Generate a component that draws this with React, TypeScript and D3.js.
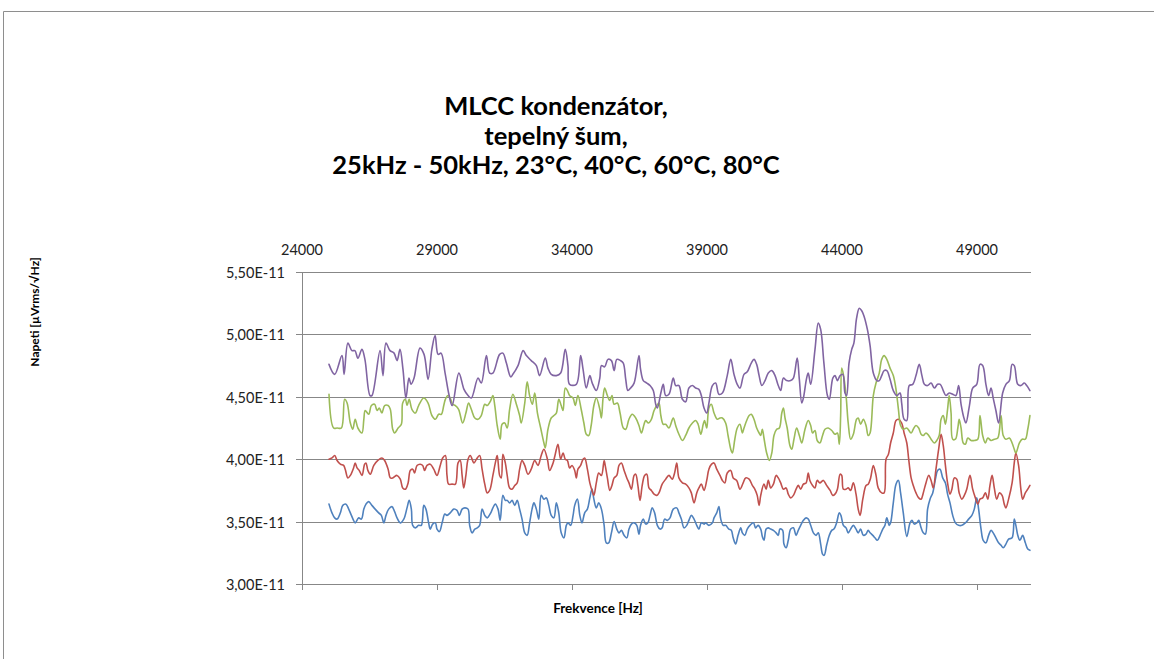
import React from "react";
import * as d3 from "d3";

// Noise voltage density of an MLCC capacitor, 25–51 kHz, at four temperatures.
// Each series: [frequency in Hz, value in units of 1E-11].

const FREQ_TICKS = [24000, 29000, 34000, 39000, 44000, 49000];
const VOLT_TICKS = [3.0, 3.5, 4.0, 4.5, 5.0, 5.5];
const TITLE_LINES = ["MLCC kondenzátor,", "tepelný šum,", "25kHz - 50kHz, 23°C, 40°C, 60°C, 80°C"];
const SERIES_NAMES = ["23°C", "40°C", "60°C", "80°C"];
const SERIES_COLORS = ["#4F81BD", "#C0504D", "#9BBB59", "#8064A2"];

const noise23C: [number, number][] = [
  [25000,3.64],[25110,3.57],[25210,3.53],[25300,3.52],[25420,3.57],[25510,3.63],[25630,3.64],[25730,3.60],[25830,3.55],[25910,3.51],
  [25970,3.49],[26100,3.53],[26200,3.52],[26290,3.60],[26370,3.64],[26470,3.66],[26590,3.63],[26710,3.60],[26840,3.57],[26940,3.55],
  [27030,3.49],[27110,3.55],[27210,3.60],[27330,3.62],[27430,3.58],[27520,3.53],[27640,3.49],[27770,3.52],[27890,3.61],[27970,3.67],
  [28050,3.60],[28100,3.47],[28200,3.45],[28320,3.47],[28420,3.47],[28510,3.63],[28590,3.60],[28690,3.49],[28750,3.44],[28840,3.48],
  [28940,3.49],[29000,3.44],[29090,3.42],[29190,3.49],[29290,3.56],[29370,3.55],[29490,3.57],[29620,3.60],[29740,3.59],[29830,3.55],
  [29930,3.60],[30030,3.61],[30150,3.60],[30210,3.47],[30300,3.41],[30400,3.44],[30490,3.45],[30580,3.47],[30670,3.60],[30770,3.55],
  [30860,3.53],[30990,3.57],[31070,3.61],[31160,3.64],[31260,3.60],[31340,3.51],[31440,3.71],[31530,3.67],[31600,3.67],[31690,3.65],
  [31780,3.67],[31880,3.63],[31970,3.67],[32060,3.60],[32150,3.52],[32250,3.41],[32340,3.39],[32430,3.49],[32520,3.60],[32590,3.65],
  [32680,3.60],[32770,3.52],[32860,3.71],[32960,3.68],[33050,3.69],[33140,3.63],[33230,3.55],[33330,3.53],[33420,3.65],[33510,3.57],
  [33600,3.41],[33700,3.37],[33790,3.47],[33850,3.49],[33950,3.47],[34040,3.55],[34100,3.63],[34200,3.68],[34290,3.55],[34370,3.49],
  [34470,3.57],[34570,3.60],[34660,3.69],[34740,3.76],[34810,3.68],[34900,3.61],[34990,3.65],[35090,3.60],[35190,3.47],[35270,3.33],
  [35360,3.33],[35460,3.41],[35560,3.50],[35660,3.44],[35740,3.41],[35830,3.43],[35930,3.39],[36030,3.37],[36110,3.44],[36200,3.48],
  [36300,3.49],[36400,3.47],[36480,3.40],[36540,3.47],[36640,3.52],[36730,3.48],[36810,3.49],[36890,3.55],[36970,3.61],[37060,3.57],
  [37160,3.47],[37260,3.44],[37340,3.45],[37430,3.52],[37530,3.51],[37630,3.53],[37750,3.60],[37880,3.61],[37960,3.57],[38050,3.52],
  [38150,3.45],[38250,3.47],[38330,3.51],[38420,3.55],[38520,3.52],[38620,3.47],[38700,3.44],[38790,3.49],[38890,3.48],[38950,3.49],
  [39070,3.47],[39200,3.49],[39260,3.53],[39360,3.57],[39440,3.62],[39510,3.52],[39600,3.47],[39690,3.47],[39810,3.44],[39900,3.43],
  [39970,3.37],[40060,3.32],[40150,3.39],[40250,3.45],[40310,3.41],[40400,3.39],[40490,3.44],[40590,3.47],[40720,3.49],[40800,3.45],
  [40890,3.47],[40990,3.44],[41050,3.38],[41110,3.35],[41190,3.44],[41270,3.45],[41360,3.44],[41460,3.43],[41560,3.41],[41640,3.39],
  [41700,3.44],[41800,3.43],[41850,3.32],[41930,3.29],[42010,3.35],[42100,3.44],[42200,3.45],[42300,3.39],[42380,3.43],[42470,3.47],
  [42570,3.51],[42670,3.53],[42750,3.52],[42840,3.47],[42940,3.41],[43040,3.39],[43120,3.41],[43210,3.32],[43280,3.24],[43340,3.23],
  [43430,3.31],[43530,3.39],[43620,3.43],[43700,3.44],[43800,3.49],[43900,3.57],[43960,3.55],[44050,3.47],[44150,3.45],[44230,3.41],
  [44320,3.44],[44420,3.47],[44520,3.44],[44600,3.41],[44690,3.44],[44790,3.39],[44890,3.40],[44970,3.43],[45040,3.41],[45140,3.39],
  [45220,3.37],[45310,3.35],[45410,3.39],[45510,3.44],[45590,3.47],[45660,3.53],[45750,3.47],[45800,3.49],[45900,3.65],[46000,3.80],
  [46090,3.83],[46170,3.73],[46270,3.57],[46400,3.38],[46520,3.49],[46590,3.51],[46680,3.48],[46770,3.49],[46840,3.51],[46930,3.45],
  [47010,3.41],[47090,3.40],[47170,3.60],[47260,3.68],[47360,3.73],[47460,3.84],[47540,3.91],[47630,3.92],[47730,3.85],[47830,3.81],
  [47910,3.72],[48000,3.65],[48100,3.55],[48200,3.49],[48320,3.47],[48440,3.47],[48570,3.49],[48690,3.52],[48810,3.55],[48900,3.60],
  [48990,3.69],[49060,3.60],[49150,3.44],[49230,3.35],[49330,3.33],[49430,3.39],[49520,3.43],[49600,3.41],[49700,3.37],[49800,3.33],
  [49890,3.31],[49970,3.29],[50070,3.32],[50170,3.36],[50300,3.37],[50380,3.52],[50440,3.47],[50510,3.39],[50590,3.35],[50690,3.39],
  [50790,3.33],[50880,3.28],[50960,3.27],
];

const noise40C: [number, number][] = [
  [25000,4.00],[25110,4.01],[25210,4.03],[25300,3.99],[25420,3.96],[25540,3.95],[25600,3.92],[25700,3.85],[25790,3.87],[25910,3.93],
  [25970,3.97],[26040,3.93],[26120,3.91],[26220,3.87],[26320,3.96],[26370,3.97],[26440,3.91],[26530,3.88],[26660,3.95],[26810,3.99],
  [26960,4.01],[27060,3.99],[27190,3.92],[27270,3.85],[27360,3.85],[27520,3.87],[27640,3.84],[27730,3.77],[27830,3.76],[27930,3.81],
  [28010,3.91],[28100,3.92],[28170,3.89],[28260,3.95],[28380,3.96],[28470,3.95],[28540,3.91],[28630,3.95],[28750,3.96],[28880,3.92],
  [29000,3.87],[29120,3.95],[29210,4.01],[29310,4.03],[29370,3.87],[29430,3.80],[29560,3.80],[29680,3.80],[29780,3.97],[29860,3.99],
  [29930,3.87],[29990,3.77],[30070,3.87],[30150,4.00],[30230,4.03],[30370,3.97],[30460,4.00],[30580,4.03],[30670,3.92],[30770,3.80],
  [30860,3.73],[30950,3.75],[31070,3.87],[31160,3.97],[31230,4.03],[31320,3.87],[31380,3.85],[31440,4.04],[31530,3.97],[31600,3.87],
  [31690,3.77],[31780,3.76],[31880,3.79],[31970,3.81],[32060,3.92],[32150,3.99],[32250,3.95],[32370,3.88],[32490,3.92],[32620,3.99],
  [32740,3.95],[32860,4.03],[32960,4.08],[33090,4.00],[33170,3.91],[33300,3.97],[33380,4.04],[33480,4.12],[33580,4.00],[33670,4.05],
  [33750,4.00],[33830,3.99],[33910,3.93],[34000,3.95],[34100,3.91],[34160,3.85],[34220,3.92],[34320,3.95],[34410,4.00],[34470,4.01],
  [34570,3.92],[34660,3.81],[34740,3.75],[34810,3.71],[34900,3.81],[34990,3.89],[35090,3.87],[35190,3.99],[35230,3.95],[35310,3.85],
  [35400,3.75],[35480,3.79],[35560,3.85],[35660,3.87],[35740,3.95],[35830,3.97],[35930,3.91],[36030,3.85],[36110,3.81],[36200,3.76],
  [36300,3.87],[36360,3.88],[36440,3.79],[36520,3.67],[36600,3.79],[36690,3.87],[36770,3.88],[36850,3.77],[36940,3.75],[37040,3.72],
  [37140,3.71],[37220,3.73],[37340,3.80],[37470,3.84],[37590,3.87],[37710,3.84],[37800,3.89],[37880,3.97],[37960,3.85],[38090,3.81],
  [38210,3.80],[38330,3.77],[38420,3.73],[38520,3.65],[38620,3.73],[38700,3.77],[38790,3.80],[38890,3.75],[38990,3.83],[39070,3.92],
  [39170,3.96],[39260,3.97],[39360,3.92],[39480,3.87],[39570,3.83],[39660,3.81],[39750,3.89],[39880,3.91],[39970,3.85],[40100,3.83],
  [40220,3.76],[40340,3.81],[40430,3.85],[40560,3.84],[40680,3.79],[40770,3.76],[40860,3.71],[40930,3.63],[40990,3.71],[41110,3.80],
  [41190,3.76],[41270,3.83],[41360,3.77],[41460,3.80],[41560,3.87],[41640,3.85],[41730,3.81],[41830,3.76],[41930,3.77],[42010,3.72],
  [42100,3.69],[42200,3.71],[42300,3.76],[42380,3.79],[42470,3.76],[42570,3.80],[42670,3.81],[42750,3.89],[42810,3.83],[42910,3.79],
  [43000,3.77],[43080,3.83],[43180,3.81],[43310,3.83],[43430,3.79],[43560,3.75],[43660,3.71],[43740,3.72],[43830,3.76],[43930,3.88],
  [43990,3.87],[44050,3.76],[44150,3.76],[44230,3.77],[44320,3.75],[44420,3.81],[44520,3.72],[44600,3.60],[44670,3.55],[44770,3.68],
  [44890,3.79],[44970,3.80],[45060,3.85],[45160,3.95],[45260,3.87],[45340,3.77],[45470,3.73],[45560,3.73],[45630,4.00],[45720,4.04],
  [45800,4.13],[45900,4.21],[46000,4.31],[46090,4.32],[46210,4.29],[46300,4.21],[46400,4.13],[46470,4.00],[46560,3.85],[46640,3.79],
  [46740,3.73],[46840,3.69],[46930,3.68],[47010,3.73],[47110,3.81],[47210,3.87],[47300,3.83],[47380,3.77],[47480,3.92],[47580,4.08],
  [47670,4.20],[47750,4.11],[47830,3.95],[47910,3.81],[48000,3.72],[48070,3.76],[48160,3.85],[48250,3.84],[48340,3.73],[48440,3.68],
  [48530,3.71],[48620,3.76],[48740,3.87],[48840,3.76],[48940,3.69],[49030,3.64],[49110,3.68],[49210,3.69],[49310,3.73],[49400,3.68],
  [49480,3.79],[49560,3.87],[49640,3.77],[49730,3.68],[49830,3.73],[49930,3.71],[50010,3.64],[50070,3.61],[50170,3.68],[50300,3.81],
  [50380,3.97],[50440,4.05],[50540,3.95],[50630,3.75],[50690,3.68],[50790,3.73],[50880,3.76],[50960,3.79],
];

const noise60C: [number, number][] = [
  [25000,4.52],[25170,4.25],[25300,4.25],[25460,4.25],[25580,4.48],[25670,4.45],[25790,4.29],[25880,4.24],[25970,4.32],[26070,4.25],
  [26220,4.21],[26290,4.32],[26340,4.39],[26470,4.36],[26570,4.43],[26690,4.44],[26780,4.39],[26860,4.41],[26960,4.37],[27060,4.43],
  [27190,4.43],[27270,4.40],[27360,4.24],[27430,4.21],[27560,4.25],[27680,4.28],[27730,4.45],[27830,4.48],[27890,4.43],[27970,4.48],
  [28070,4.40],[28200,4.37],[28320,4.43],[28510,4.49],[28670,4.45],[28810,4.35],[28940,4.32],[29060,4.36],[29160,4.36],[29250,4.43],
  [29310,4.48],[29410,4.51],[29490,4.49],[29580,4.44],[29680,4.43],[29800,4.40],[29950,4.29],[30070,4.37],[30170,4.45],[30270,4.40],
  [30400,4.33],[30520,4.32],[30640,4.35],[30770,4.44],[30860,4.43],[30990,4.47],[31070,4.51],[31140,4.43],[31230,4.27],[31340,4.16],
  [31410,4.28],[31510,4.29],[31600,4.25],[31690,4.40],[31810,4.52],[31940,4.44],[32060,4.35],[32120,4.29],[32250,4.45],[32340,4.62],
  [32430,4.51],[32530,4.44],[32620,4.53],[32720,4.37],[32840,4.25],[32960,4.13],[33010,4.09],[33110,4.24],[33230,4.33],[33330,4.35],
  [33420,4.37],[33510,4.48],[33600,4.43],[33670,4.39],[33750,4.57],[33830,4.55],[33910,4.51],[34040,4.49],[34120,4.43],[34220,4.51],
  [34340,4.40],[34440,4.29],[34530,4.20],[34620,4.19],[34710,4.27],[34810,4.43],[34900,4.49],[35030,4.40],[35090,4.33],[35150,4.49],
  [35210,4.57],[35310,4.51],[35400,4.47],[35480,4.51],[35560,4.44],[35680,4.45],[35780,4.37],[35900,4.25],[35990,4.24],[36110,4.32],
  [36230,4.36],[36360,4.33],[36480,4.27],[36570,4.21],[36670,4.28],[36730,4.31],[36830,4.29],[36940,4.32],[37040,4.39],[37140,4.43],
  [37220,4.45],[37290,4.35],[37380,4.28],[37470,4.28],[37590,4.25],[37750,4.33],[37840,4.27],[37960,4.20],[38090,4.15],[38210,4.19],
  [38330,4.25],[38460,4.29],[38580,4.31],[38670,4.28],[38770,4.20],[38860,4.28],[38910,4.31],[38990,4.25],[39070,4.41],[39160,4.44],
  [39260,4.37],[39380,4.32],[39480,4.33],[39570,4.33],[39690,4.29],[39780,4.19],[39880,4.08],[39940,4.05],[40030,4.16],[40120,4.25],
  [40220,4.28],[40310,4.21],[40370,4.25],[40470,4.31],[40560,4.35],[40640,4.36],[40740,4.32],[40840,4.25],[40930,4.21],[40990,4.19],
  [41050,4.24],[41110,4.17],[41210,4.05],[41310,3.99],[41400,4.05],[41480,4.19],[41580,4.24],[41680,4.25],[41770,4.37],[41830,4.41],
  [41890,4.33],[41970,4.25],[42070,4.11],[42140,4.08],[42220,4.16],[42320,4.25],[42420,4.19],[42510,4.13],[42630,4.24],[42750,4.31],
  [42840,4.27],[42910,4.21],[43000,4.23],[43080,4.15],[43180,4.13],[43280,4.19],[43370,4.24],[43490,4.25],[43620,4.23],[43740,4.20],
  [43830,4.21],[43900,4.12],[43950,4.35],[43990,4.73],[44050,4.68],[44150,4.51],[44230,4.29],[44320,4.16],[44420,4.20],[44540,4.32],
  [44600,4.33],[44690,4.28],[44790,4.32],[44890,4.27],[44970,4.19],[45040,4.21],[45160,4.51],[45260,4.61],[45380,4.69],[45470,4.80],
  [45560,4.83],[45660,4.80],[45780,4.73],[45900,4.67],[46000,4.56],[46090,4.40],[46170,4.27],[46270,4.24],[46400,4.25],[46560,4.21],
  [46640,4.24],[46740,4.27],[46840,4.25],[46930,4.20],[47010,4.19],[47110,4.21],[47210,4.19],[47300,4.16],[47420,4.13],[47510,4.15],
  [47600,4.19],[47670,4.32],[47750,4.35],[47830,4.28],[47910,4.40],[47970,4.51],[48040,4.37],[48100,4.16],[48200,4.16],[48290,4.25],
  [48340,4.32],[48410,4.25],[48490,4.13],[48570,4.12],[48660,4.17],[48780,4.15],[48900,4.15],[49030,4.16],[49110,4.35],[49210,4.19],
  [49310,4.13],[49400,4.17],[49520,4.15],[49640,4.16],[49770,4.17],[49890,4.35],[49970,4.19],[50070,4.16],[50200,4.17],[50300,4.13],
  [50380,4.08],[50440,4.05],[50570,4.13],[50670,4.16],[50790,4.16],[50880,4.24],[50960,4.35],
];

const noise80C: [number, number][] = [
  [25000,4.76],[25210,4.68],[25480,4.83],[25560,4.68],[25700,4.93],[25850,4.87],[25960,4.87],[26070,4.81],[26220,4.88],[26330,4.80],
  [26520,4.51],[26590,4.51],[26890,4.87],[27000,4.67],[27110,4.93],[27260,4.87],[27410,4.85],[27520,4.79],[27630,4.88],[27740,4.72],
  [27850,4.49],[27960,4.65],[28040,4.60],[28150,4.65],[28370,4.89],[28520,4.84],[28670,4.64],[28810,4.88],[28930,4.99],[29040,4.84],
  [29150,4.85],[29300,4.69],[29440,4.52],[29560,4.43],[29810,4.69],[30000,4.56],[30150,4.51],[30270,4.49],[30520,4.65],[30640,4.61],
  [30830,4.83],[30950,4.69],[31070,4.69],[31320,4.84],[31440,4.85],[31570,4.77],[31730,4.66],[31810,4.68],[32000,4.75],[32190,4.87],
  [32310,4.83],[32490,4.79],[32680,4.75],[32800,4.67],[33010,4.81],[33110,4.73],[33230,4.68],[33420,4.67],[33580,4.69],[33750,4.88],
  [33850,4.75],[33910,4.60],[34160,4.60],[34320,4.83],[34410,4.72],[34530,4.57],[34660,4.67],[34750,4.61],[34900,4.55],[35030,4.65],
  [35090,4.75],[35210,4.74],[35330,4.80],[35460,4.79],[35560,4.71],[35660,4.80],[35800,4.79],[35900,4.77],[35990,4.64],[36070,4.55],
  [36170,4.57],[36300,4.61],[36480,4.83],[36540,4.72],[36640,4.63],[36770,4.61],[36890,4.59],[37010,4.55],[37100,4.44],[37160,4.41],
  [37290,4.53],[37380,4.60],[37470,4.51],[37590,4.52],[37750,4.65],[37840,4.59],[37960,4.59],[38090,4.48],[38210,4.46],[38330,4.57],
  [38460,4.59],[38580,4.57],[38700,4.56],[38790,4.51],[38890,4.41],[38990,4.37],[39070,4.45],[39200,4.59],[39320,4.61],[39440,4.52],
  [39570,4.53],[39750,4.67],[39880,4.80],[40000,4.68],[40120,4.60],[40220,4.57],[40370,4.68],[40490,4.70],[40640,4.77],[40740,4.80],
  [40840,4.76],[40930,4.67],[41030,4.59],[41150,4.63],[41270,4.69],[41400,4.71],[41520,4.67],[41640,4.59],[41730,4.55],[41830,4.65],
  [41950,4.63],[42100,4.63],[42200,4.65],[42340,4.81],[42420,4.64],[42510,4.45],[42570,4.49],[42690,4.65],[42750,4.69],[42840,4.60],
  [43000,4.88],[43120,5.09],[43210,5.04],[43330,4.77],[43460,4.51],[43530,4.48],[43660,4.65],[43740,4.67],[43830,4.63],[43930,4.67],
  [44030,4.68],[44110,4.53],[44170,4.51],[44260,4.77],[44360,4.88],[44440,4.93],[44540,5.13],[44640,5.21],[44730,5.19],[44810,5.15],
  [44940,5.04],[45040,4.91],[45160,4.69],[45290,4.63],[45380,4.63],[45470,4.67],[45560,4.71],[45660,4.71],[45780,4.64],[45900,4.55],
  [46030,4.51],[46150,4.53],[46210,4.45],[46300,4.32],[46400,4.31],[46490,4.59],[46620,4.60],[46740,4.67],[46860,4.76],[46960,4.67],
  [47050,4.60],[47170,4.59],[47300,4.61],[47420,4.57],[47540,4.60],[47640,4.60],[47750,4.55],[47850,4.51],[47970,4.53],[48100,4.52],
  [48220,4.51],[48320,4.59],[48410,4.44],[48530,4.32],[48590,4.29],[48720,4.43],[48840,4.57],[48990,4.60],[49110,4.76],[49210,4.75],
  [49330,4.60],[49430,4.51],[49520,4.57],[49600,4.49],[49700,4.39],[49800,4.29],[49950,4.53],[50070,4.60],[50200,4.63],[50300,4.76],
  [50380,4.75],[50510,4.60],[50630,4.59],[50750,4.61],[50840,4.59],[50960,4.55],
];

const SERIES = [noise23C, noise40C, noise60C, noise80C];

const FONT = "Lato, 'Open Sans', sans-serif";
const GRID = "#878787";

const PLOT = { left: 302, right: 1031, top: 272, bottom: 584 };

const formatVolt = (v: number) => `${v.toFixed(2).replace(".", ",")}E-11`;

export default function App() {
  const x = d3.scaleLinear().domain([24000, 51000]).range([PLOT.left, PLOT.right]);
  const y = d3.scaleLinear().domain([3.0, 5.5]).range([PLOT.bottom, PLOT.top]);
  const line = d3
    .line<[number, number]>()
    .x((d) => x(d[0]))
    .y((d) => y(d[1]))
    .curve(d3.curveCatmullRom.alpha(0.5));

  const snap = (v: number) => Math.round(v) + 0.5;

  return (
    <svg
      width={1154}
      height={659}
      style={{ position: "absolute", left: 0, top: 0, background: "#fff" }}
      fontFamily={FONT}
    >
      {/* chart area frame */}
      <path d="M3.5,659 V11.5 H1154" fill="none" stroke="#8e8e8e" strokeWidth={1} />

      {/* title */}
      <g fontWeight="bold" fontSize={25.5} fill="#000" textAnchor="middle">
        {TITLE_LINES.map((t, i) => (
          <text key={t} x={556} y={115 + i * 29.5}>
            {t}
          </text>
        ))}
      </g>

      {/* horizontal gridlines */}
      <g stroke={GRID} strokeWidth={1}>
        {VOLT_TICKS.map((v) => (
          <line key={v} x1={PLOT.left} x2={PLOT.right} y1={snap(y(v))} y2={snap(y(v))} />
        ))}
      </g>

      {/* value axis and frequency tick marks */}
      <g stroke={GRID} strokeWidth={1}>
        <line x1={snap(PLOT.left)} x2={snap(PLOT.left)} y1={PLOT.top} y2={PLOT.bottom + 5} />
        {VOLT_TICKS.map((v) => (
          <line key={v} x1={PLOT.left - 6} x2={PLOT.left} y1={snap(y(v))} y2={snap(y(v))} />
        ))}
        {FREQ_TICKS.map((f) => (
          <line key={f} x1={snap(x(f))} x2={snap(x(f))} y1={PLOT.bottom} y2={PLOT.bottom + 6} />
        ))}
      </g>
      <g fontSize={14.5} fill="#222" textAnchor="end">
        {VOLT_TICKS.map((v) => (
          <text key={v} x={285} y={y(v) + 1} dy="0.35em">
            {formatVolt(v)}
          </text>
        ))}
      </g>

      {/* frequency labels along the top */}
      <g fontSize={14.5} fill="#222" textAnchor="middle">
        {FREQ_TICKS.map((f) => (
          <text key={f} x={x(f)} y={250} dy="0.35em">
            {f}
          </text>
        ))}
      </g>

      {/* series */}
      <g fill="none" strokeWidth={1.6} strokeLinejoin="round" strokeLinecap="round">
        {SERIES.map((s, i) => (
          <path key={SERIES_NAMES[i]} d={line(s) ?? ""} stroke={SERIES_COLORS[i]} />
        ))}
      </g>

      {/* axis titles */}
      <text
        x={598}
        y={608}
        dy="0.35em"
        textAnchor="middle"
        fontWeight="bold"
        fontSize={13.5}
        fill="#000"
      >
        Frekvence [Hz]
      </text>
      <text
        transform="translate(35,312) rotate(-90)"
        dy="0.35em"
        textAnchor="middle"
        fontWeight="bold"
        fontSize={12}
        fill="#000"
      >
        Napeti [µVrms/√Hz]
      </text>
    </svg>
  );
}
